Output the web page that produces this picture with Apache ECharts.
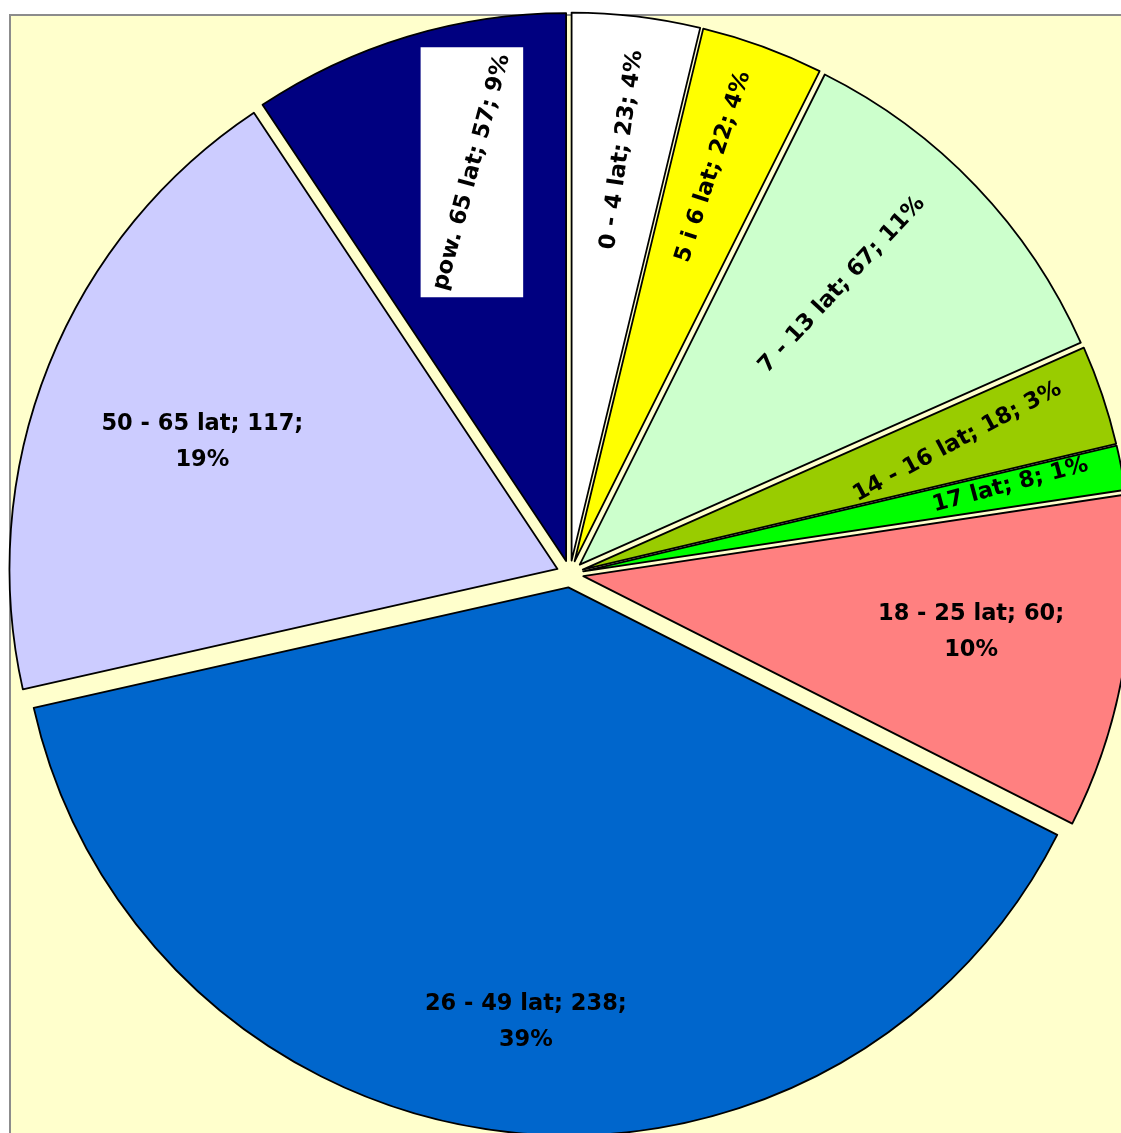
<!DOCTYPE html>
<html><head><meta charset="utf-8">
<script src="https://cdn.jsdelivr.net/npm/echarts@6/dist/echarts.min.js"></script>
<style>
html,body{margin:0;padding:0;background:#fff;overflow:hidden;width:1121px;height:1133px}
#frame{position:absolute;left:9px;top:14px;width:1200px;height:1200px;background:#FFFFCC;border-left:2px solid #8c8c8c;border-top:2px solid #8c8c8c}
#chart{position:absolute;left:0;top:0;width:1121px;height:1133px}
</style></head><body>
<div id="frame"></div><div id="chart"></div>
<script>
// ---- data ----
const categories = ['0 - 4 lat', '5 i 6 lat', '7 - 13 lat', '14 - 16 lat', '17 lat', '18 - 25 lat', '26 - 49 lat', '50 - 65 lat', 'pow. 65 lat'];
const counts = [23, 22, 67, 18, 8, 60, 238, 117, 57];

// ---- style ----
const colors = ['#FFFFFF', '#FFFF00', '#CCFFCC', '#99CC00', '#00FF00', '#FF8080', '#0066CC', '#CCCCFF', '#000080'];
const labelRotate = [82, 72, 47, 28, 15, 0, 0, 0, 75];
const labelRadiusFactor = [0.755, 0.763, 0.700, 0.722, 0.795, 0.715, 0.797, 0.688, 0.730];
const labelAngleShift = [-0.2, 0.7, 3.2, 0.25, 0.5, 0.9, 1.5, 2.2, -3.2];
const boxedLabel = 8;
const CENTER = [570, 574];
const R = 548;
const OFFSET = 13.5;

const total = counts.reduce((a, b) => a + b, 0);
function labelText(i) {
  const pct = Math.round(counts[i] / total * 100) + '%';
  const head = categories[i] + '; ' + counts[i] + ';';
  return labelRotate[i] === 0 ? head + '\n' + pct : head + ' ' + pct;
}
// label anchor near the slice bisector (slice angles follow the data)
function labelPos(i) {
  let before = 0;
  for (let k = 0; k < i; k++) before += counts[k];
  const frac = (before + counts[i] / 2) / total;
  const mid = (90 - frac * 360) * Math.PI / 180;
  const th = mid + labelAngleShift[i] * Math.PI / 180;
  const ax = CENTER[0] + OFFSET * Math.cos(mid), ay = CENTER[1] - OFFSET * Math.sin(mid);
  const d = labelRadiusFactor[i] * R;
  return [ax + d * Math.cos(th), ay - d * Math.sin(th)];
}
const font = {fontFamily: 'DejaVu Sans', fontWeight: 'bold', fontSize: 22.5, color: '#000', lineHeight: 36};

const base = {
  type: 'pie', center: CENTER, radius: R, startAngle: 90, clockwise: true,
  avoidLabelOverlap: false, animation: false,
  emphasis: {disabled: true}, labelLine: {show: false}
};

const visual = Object.assign({}, base, {
  z: 2,
  selectedMode: 'multiple', selectedOffset: OFFSET,
  label: {show: false},
  itemStyle: {borderColor: '#000', borderWidth: 1.8},
  select: {itemStyle: {borderColor: '#000', borderWidth: 1.8}},
  data: categories.map((c, i) => ({name: c, value: counts[i], selected: true,
    itemStyle: {color: colors[i]}, select: {itemStyle: {color: colors[i]}}}))
});

function overlay(z, labelFor, rotFor) {
  return Object.assign({}, base, {
    z: z, silent: true, selectedMode: false,
    itemStyle: {color: 'rgba(0,0,0,0)', borderWidth: 0},
    label: {show: false},
    labelLayout: function (p) {
      const xy = labelPos(p.dataIndex);
      return {x: xy[0], y: xy[1], align: 'center', verticalAlign: 'middle', rotate: rotFor(p.dataIndex)};
    },
    data: categories.map((c, j) => ({name: c, value: counts[j], label: labelFor(j)}))
  });
}

const boxSeries = overlay(3, (j) => j === boxedLabel
  ? {show: true, position: 'inside', formatter: ' ', fontSize: 2, backgroundColor: '#FFFFFF', padding: [124, 51]}
  : {show: false}, () => 0);
const textSeries = overlay(4, (j) => Object.assign({show: true, position: 'inside', formatter: () => labelText(j)}, font),
  (j) => labelRotate[j]);

const chart = echarts.init(document.getElementById('chart'), null, {renderer: 'canvas'});
chart.setOption({backgroundColor: 'transparent', animation: false, series: [visual, boxSeries, textSeries]});
</script></body></html>
